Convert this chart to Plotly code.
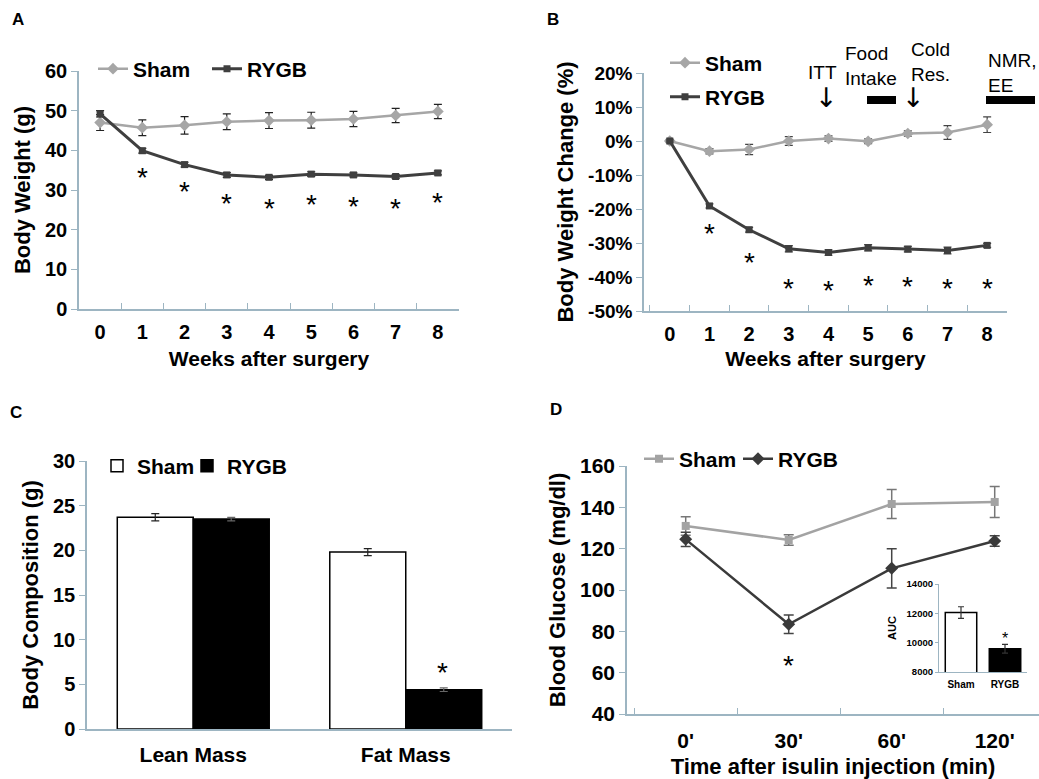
import plotly.graph_objects as go

W, H = 1039, 779
def px_x(p): return p / W
def px_y(p): return 1 - p / H

FONT = "Liberation Sans, Arial, sans-serif"
AX = "#9db5c2"
SHAM_C = "#a6a6a6"
RYGB_C = "#3f3f3f"

# ---------- data ----------
weeks = ["0", "1", "2", "3", "4", "5", "6", "7", "8"]
bw_sham = [47.0, 45.7, 46.3, 47.2, 47.5, 47.6, 47.9, 48.8, 49.8]
bw_sham_err = [2.0, 2.0, 2.2, 2.0, 2.0, 2.0, 1.9, 1.8, 1.8]
bw_rygb = [49.2, 39.9, 36.4, 33.8, 33.2, 34.0, 33.8, 33.4, 34.3]
bw_rygb_err = [0.8, 0.6, 0.6, 0.6, 0.5, 0.6, 0.5, 0.5, 0.5]
bw_star_y = [None, 35.5, 31.9, 28.8, 27.7, 28.5, 28.2, 27.7, 29.2]

chg_sham = [0.0, -3.0, -2.5, 0.0, 0.7, -0.1, 2.2, 2.5, 4.8]
chg_sham_err = [0.5, 0.8, 1.5, 1.3, 0.8, 0.7, 0.8, 2.0, 2.3]
chg_rygb = [0.0, -19.1, -26.1, -31.7, -32.8, -31.4, -31.8, -32.2, -30.7]
chg_rygb_err = [0.3, 0.6, 0.7, 0.9, 0.8, 0.9, 0.8, 1.0, 0.6]
chg_star_y = [None, -24.5, -33.1, -40.6, -41.2, -39.8, -40.2, -40.8, -40.8]
chg_ticks = [20, 10, 0, -10, -20, -30, -40, -50]
chg_ticktext = ["20%", "10%", "0%", "-10%", "-20%", "-30%", "-40%", "-50%"]

comp_cats = ["Lean Mass", "Fat Mass"]
comp_sham = [23.7, 19.8]
comp_sham_err = [0.4, 0.4]
comp_rygb = [23.5, 4.4]
comp_rygb_err = [0.2, 0.2]
comp_star_y = [None, 7.3]

itt_times = ["0'", "30'", "60'", "120'"]
glu_sham = [131.0, 124.2, 141.6, 142.6]
glu_sham_err = [4.5, 2.5, 7.0, 7.5]
glu_rygb = [124.5, 83.4, 110.5, 123.7]
glu_rygb_err = [3.5, 4.5, 9.5, 2.5]
glu_star_y = [None, 67.7, None, None]

auc_cats = ["Sham", "RYGB"]
auc_vals = [12050, 9590]
auc_err = [400, 300]
auc_star_y = [None, 10600]

fig = go.Figure()

def bold(size, color="black"):
    return dict(family=FONT, size=size, color=color, weight="bold")

# ---------- Panel A ----------
fig.add_trace(go.Scatter(x=weeks, y=bw_sham, mode="lines+markers", name="Sham",
    line=dict(color=SHAM_C, width=2.5), marker=dict(symbol="diamond", size=9, color=SHAM_C),
    error_y=dict(type="data", array=bw_sham_err, color="#222", thickness=1.2, width=4),
    xaxis="x", yaxis="y", legend="legend"))
fig.add_trace(go.Scatter(x=weeks, y=bw_rygb, mode="lines+markers", name="RYGB",
    line=dict(color=RYGB_C, width=3), marker=dict(symbol="square", size=7, color=RYGB_C),
    error_y=dict(type="data", array=bw_rygb_err, color="#222", thickness=1.2, width=4),
    xaxis="x", yaxis="y", legend="legend6"))

# ---------- Panel B ----------
fig.add_trace(go.Scatter(x=weeks, y=chg_sham, mode="lines+markers", name="Sham",
    line=dict(color=SHAM_C, width=2.5), marker=dict(symbol="diamond", size=9, color=SHAM_C),
    error_y=dict(type="data", array=chg_sham_err, color="#444", thickness=1.2, width=4),
    xaxis="x2", yaxis="y2", legend="legend2"))
fig.add_trace(go.Scatter(x=weeks, y=chg_rygb, mode="lines+markers", name="RYGB",
    line=dict(color=RYGB_C, width=3), marker=dict(symbol="square", size=7, color=RYGB_C),
    error_y=dict(type="data", array=chg_rygb_err, color="#444", thickness=1.2, width=4),
    xaxis="x2", yaxis="y2", legend="legend3"))

# ---------- Panel C ----------
fig.add_trace(go.Bar(x=comp_cats, y=comp_sham, name="Sham",
    marker=dict(color="white", line=dict(color="black", width=1.5)),
    error_y=dict(type="data", array=comp_sham_err, color="#222", thickness=1.2, width=4),
    xaxis="x3", yaxis="y3", legend="legend4"))
fig.add_trace(go.Bar(x=comp_cats, y=comp_rygb, name="RYGB",
    marker=dict(color="black", line=dict(color="black", width=1.5)),
    error_y=dict(type="data", array=comp_rygb_err, color="#666", thickness=1.2, width=4),
    xaxis="x3", yaxis="y3", legend="legend7"))

# ---------- Panel D ----------
fig.add_trace(go.Scatter(x=itt_times, y=glu_sham, mode="lines+markers", name="Sham",
    line=dict(color="#a3a3a3", width=2.5), marker=dict(symbol="square", size=8, color="#a3a3a3"),
    error_y=dict(type="data", array=glu_sham_err, color="#777", thickness=1.5, width=5),
    xaxis="x4", yaxis="y4", legend="legend5"))
fig.add_trace(go.Scatter(x=itt_times, y=glu_rygb, mode="lines+markers", name="RYGB",
    line=dict(color="#3a3a3a", width=2.5), marker=dict(symbol="diamond", size=10, color="#3a3a3a"),
    error_y=dict(type="data", array=glu_rygb_err, color="#444", thickness=1.5, width=5),
    xaxis="x4", yaxis="y4", legend="legend8"))

# ---------- Inset ----------
fig.add_trace(go.Bar(x=auc_cats, y=auc_vals, showlegend=False,
    marker=dict(color=["white", "black"], line=dict(color="black", width=1.5)),
    error_y=dict(type="data", array=auc_err, color="#333", thickness=1.2, width=3),
    xaxis="x5", yaxis="y5"))

# ---------- stars ----------
ann = []
def stars(xs, ys, xr, yr, size=28, shift=-9, xshift=0):
    for xv, yv in zip(xs, ys):
        if yv is None:
            continue
        ann.append(dict(x=xv, y=yv, xref=xr, yref=yr, text="*", showarrow=False,
                        xanchor="center", yanchor="middle", xshift=xshift,
                        font=dict(family=FONT, size=size, color="black"), yshift=shift))
stars(weeks, bw_star_y, "x", "y")
stars(weeks, chg_star_y, "x2", "y2")
stars(comp_cats, comp_star_y, "x3", "y3", xshift=37)   # over the RYGB bar of the group
stars(itt_times, glu_star_y, "x4", "y4")
stars(auc_cats, auc_star_y, "x5", "y5", size=16, shift=-5)

def note(text, x, y, font, xanchor="center", align="center"):
    return dict(x=px_x(x), y=px_y(y), xref="paper", yref="paper", text=text, showarrow=False,
                xanchor=xanchor, yanchor="middle", align=align, font=font)

# panel letters
for t, x, y in [("A", 18, 20), ("B", 553, 20), ("C", 16, 412), ("D", 556, 409)]:
    ann.append(note(t, x, y, bold(17)))

# panel B event labels
reg = dict(family=FONT, size=19, color="black")
arrow_f = dict(family="DejaVu Sans", size=27, color="black")
ann += [
    note("ITT", 822, 72, reg),
    note("↓", 826, 97, arrow_f),
    note("Food<br>Intake", 843, 66, reg, xanchor="left", align="left"),
    note("Cold<br>Res.", 909, 62, reg, xanchor="left", align="left"),
    note("↓", 913, 97, arrow_f),
    note("NMR,<br>EE", 986, 73, reg, xanchor="left", align="left"),
]
shapes = [
    dict(type="rect", xref="paper", yref="paper", x0=px_x(867), x1=px_x(896),
         y0=px_y(104), y1=px_y(96), fillcolor="black", line=dict(width=0)),
    dict(type="rect", xref="paper", yref="paper", x0=px_x(986), x1=px_x(1035),
         y0=px_y(104), y1=px_y(96), fillcolor="black", line=dict(width=0)),
]

def xax(domain, rng, ticks="inside", tsize=20, lstand=3, **kw):
    d = dict(domain=domain, type="category", range=rng, showline=True, linecolor=AX, linewidth=1.5,
             ticks=ticks, tickson="boundaries", ticklen=6, tickcolor=AX, showgrid=False,
             tickfont=bold(tsize), zeroline=False, automargin=False, ticklabelstandoff=lstand)
    d.update(kw)
    return d

def yax(domain, rng, dtick, title, tsize=20, standoff=8, titlesize=22, **kw):
    d = dict(domain=domain, range=rng, dtick=dtick, showline=True, linecolor=AX, linewidth=1.5,
             ticks="outside", ticklen=6, tickcolor=AX, showgrid=False, zeroline=False,
             automargin=False, tickfont=bold(tsize),
             title=dict(text=title, font=bold(titlesize), standoff=standoff))
    d.update(kw)
    return d

legbase = dict(bgcolor="rgba(0,0,0,0)", font=bold(21), itemwidth=30, borderwidth=0,
               xanchor="left", yanchor="middle")
def leg(x, y):
    return dict(legbase, x=px_x(x), y=px_y(y))

fig.update_layout(
    width=W, height=H, margin=dict(l=0, r=0, t=0, b=0, autoexpand=False),
    paper_bgcolor="white", plot_bgcolor="white",
    font=dict(family=FONT, color="black"),
    barmode="group", bargap=0.285, bargroupgap=0,
    xaxis=xax([px_x(79), px_x(459)], [-0.5, 8.5], lstand=4,
              title=dict(text="Weeks after surgery", font=bold(21), standoff=10)),
    yaxis=yax([px_y(309), px_y(71)], [0, 60], 10, "Body Weight (g)"),
    xaxis2=xax([px_x(644), px_x(1007)], [-0.65, 8.5], lstand=4,
               title=dict(text="Weeks after surgery", font=bold(21), standoff=8)),
    yaxis2=yax([px_y(311), px_y(73)], [-50, 20], None, "Body Weight Change (%)",
               tickvals=chg_ticks, ticktext=chg_ticktext, tsize=19),
    xaxis3=xax([px_x(87), px_x(512)], [-0.5, 1.5], ticks="", tsize=21, lstand=6),
    yaxis3=yax([px_y(729), px_y(461)], [0, 30], 5, "Body Composition (g)"),
    xaxis4=xax([px_x(627), 1.0], [-0.57, 3.43], tsize=21, lstand=7,
               title=dict(text="Time after isulin injection (min)", font=bold(22), standoff=14)),
    yaxis4=yax([px_y(714), px_y(466)], [40, 160], 20, "Blood Glucose (mg/dl)", tsize=21),
    xaxis5=dict(domain=[px_x(939), px_x(1027)], type="category", range=[-0.5, 1.5],
                showline=True, linecolor=AX, linewidth=1.2, ticks="", showgrid=False,
                tickfont=bold(10), anchor="y5", automargin=False, ticklabelstandoff=3),
    yaxis5=dict(domain=[px_y(672), px_y(584)], range=[8000, 14000], dtick=2000, showline=True,
                linecolor=AX, linewidth=1.2, ticks="outside", ticklen=3, tickcolor=AX,
                showgrid=False, zeroline=False, tickfont=bold(9.5), anchor="x5", tickformat="d",
                automargin=False, title=dict(text="AUC", font=bold(11), standoff=7)),
    legend=leg(93, 69), legend6=leg(207, 69),
    legend2=leg(665, 63), legend3=leg(665, 97),
    legend4=leg(97, 466), legend7=leg(187, 466),
    legend5=leg(639, 459), legend8=leg(738, 459),
    annotations=ann, shapes=shapes,
)
fig.layout.xaxis.anchor = "y"; fig.layout.yaxis.anchor = "x"
fig.layout.xaxis2.anchor = "y2"; fig.layout.yaxis2.anchor = "x2"
fig.layout.xaxis3.anchor = "y3"; fig.layout.yaxis3.anchor = "x3"
fig.layout.xaxis4.anchor = "y4"; fig.layout.yaxis4.anchor = "x4"

fig.write_html("out.html", config={"displayModeBar": False},
               post_script="document.body.style.margin='0px';")
